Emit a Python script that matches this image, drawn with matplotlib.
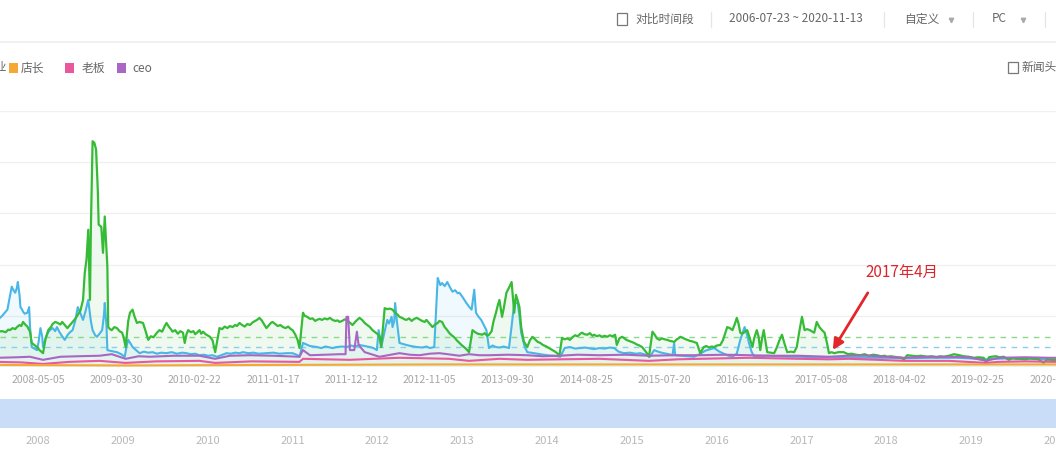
import numpy as np
import pandas as pd
import matplotlib
matplotlib.use('Agg')
import matplotlib.pyplot as plt
from matplotlib.patches import Rectangle
from matplotlib.lines import Line2D

plt.rcParams['font.family'] = ['Noto Sans CJK SC', 'DejaVu Sans']

# ---------------- data: (decimal year, index value) ----------------
green_pts = [
    (2007.88, 690), (2007.93, 700), (2007.97, 680), (2008.00, 730), (2008.02, 720), (2008.05, 760),
    (2008.08, 740), (2008.10, 780), (2008.13, 820), (2008.15, 800), (2008.17, 880), (2008.20, 820),
    (2008.22, 790), (2008.25, 690), (2008.27, 470), (2008.30, 430), (2008.33, 390), (2008.36, 330),
    (2008.40, 270), (2008.43, 560), (2008.46, 720), (2008.49, 780), (2008.51, 840), (2008.54, 880),
    (2008.57, 860), (2008.60, 830), (2008.62, 880), (2008.65, 820), (2008.68, 760), (2008.71, 820),
    (2008.74, 880), (2008.77, 940), (2008.80, 1020), (2008.83, 1100), (2008.86, 1310), (2008.88, 1840),
    (2008.90, 2100), (2008.92, 2680), (2008.94, 1310), (2008.95, 2680), (2008.97, 4410), (2008.99, 4380),
    (2009.01, 4250), (2009.03, 3460), (2009.04, 2780), (2009.07, 2740), (2009.09, 2230), (2009.11, 2940),
    (2009.14, 1960), (2009.15, 780), (2009.17, 740), (2009.19, 720), (2009.22, 780), (2009.25, 760),
    (2009.28, 700), (2009.31, 670), (2009.33, 560), (2009.35, 390), (2009.38, 900), (2009.40, 1060),
    (2009.43, 1120), (2009.45, 1000), (2009.48, 860), (2009.51, 880), (2009.55, 860), (2009.58, 700),
    (2009.61, 530), (2009.64, 600), (2009.67, 580), (2009.71, 670), (2009.74, 720), (2009.77, 690),
    (2009.80, 800), (2009.82, 860), (2009.85, 780), (2009.87, 740), (2009.89, 690), (2009.92, 720),
    (2009.95, 650), (2009.98, 700), (2010.01, 670), (2010.03, 470), (2010.05, 640), (2010.07, 720),
    (2010.10, 680), (2010.13, 700), (2010.15, 640), (2010.17, 670), (2010.20, 720), (2010.22, 650),
    (2010.24, 690), (2010.27, 640), (2010.30, 610), (2010.32, 590), (2010.35, 520), (2010.38, 290),
    (2010.43, 760), (2010.46, 740), (2010.49, 790), (2010.52, 760), (2010.55, 800), (2010.58, 780),
    (2010.61, 820), (2010.63, 800), (2010.66, 860), (2010.69, 820), (2010.72, 790), (2010.75, 840),
    (2010.78, 820), (2010.81, 870), (2010.84, 900), (2010.87, 930), (2010.89, 960), (2010.92, 900),
    (2010.94, 840), (2010.97, 760), (2011.00, 820), (2011.02, 860), (2011.04, 880), (2011.07, 840),
    (2011.10, 800), (2011.13, 820), (2011.16, 780), (2011.19, 760), (2011.22, 790), (2011.25, 740),
    (2011.27, 720), (2011.30, 640), (2011.33, 520), (2011.35, 370), (2011.39, 1060), (2011.41, 1000),
    (2011.44, 980), (2011.47, 940), (2011.50, 950), (2011.53, 900), (2011.55, 920), (2011.58, 940),
    (2011.61, 920), (2011.64, 950), (2011.67, 930), (2011.70, 960), (2011.73, 920), (2011.76, 900),
    (2011.79, 910), (2011.81, 880), (2011.84, 900), (2011.87, 930), (2011.89, 920), (2011.92, 880),
    (2011.94, 850), (2011.96, 820), (2011.99, 880), (2012.02, 930), (2012.04, 960), (2012.07, 920),
    (2012.10, 860), (2012.13, 820), (2012.16, 780), (2012.19, 720), (2012.22, 680), (2012.25, 640),
    (2012.27, 590), (2012.29, 390), (2012.33, 1150), (2012.36, 1130), (2012.39, 1140), (2012.42, 1120),
    (2012.45, 1060), (2012.48, 1020), (2012.50, 980), (2012.53, 960), (2012.56, 930), (2012.58, 920),
    (2012.61, 950), (2012.64, 900), (2012.67, 940), (2012.70, 960), (2012.73, 930), (2012.76, 900),
    (2012.79, 880), (2012.81, 920), (2012.84, 860), (2012.86, 820), (2012.88, 780), (2012.91, 830),
    (2012.94, 860), (2012.96, 900), (2012.99, 880), (2013.02, 780), (2013.05, 720), (2013.07, 670),
    (2013.10, 620), (2013.13, 580), (2013.16, 520), (2013.19, 470), (2013.22, 420), (2013.25, 380),
    (2013.28, 330), (2013.30, 290), (2013.34, 720), (2013.37, 680), (2013.40, 650), (2013.43, 640),
    (2013.45, 630), (2013.48, 660), (2013.51, 610), (2013.53, 630), (2013.56, 700), (2013.58, 880),
    (2013.61, 1060), (2013.63, 1200), (2013.65, 1310), (2013.68, 980), (2013.70, 1150), (2013.73, 1450),
    (2013.76, 1550), (2013.79, 1660), (2013.82, 1060), (2013.84, 1410), (2013.86, 1300), (2013.88, 1170),
    (2013.90, 780), (2013.93, 500), (2013.97, 390), (2014.00, 520), (2014.03, 590), (2014.06, 540),
    (2014.09, 490), (2014.12, 470), (2014.15, 430), (2014.18, 410), (2014.20, 390), (2014.23, 360),
    (2014.26, 330), (2014.29, 300), (2014.32, 260), (2014.34, 230), (2014.37, 570), (2014.40, 540),
    (2014.43, 560), (2014.46, 530), (2014.49, 580), (2014.52, 620), (2014.55, 600), (2014.58, 650),
    (2014.60, 670), (2014.63, 640), (2014.66, 630), (2014.69, 660), (2014.72, 610), (2014.74, 630),
    (2014.77, 600), (2014.80, 620), (2014.83, 590), (2014.86, 610), (2014.89, 590), (2014.92, 620),
    (2014.95, 600), (2014.98, 630), (2015.00, 430), (2015.03, 560), (2015.06, 590), (2015.08, 570),
    (2015.11, 530), (2015.14, 510), (2015.17, 490), (2015.20, 470), (2015.23, 440), (2015.26, 420),
    (2015.29, 390), (2015.32, 330), (2015.35, 260), (2015.37, 200), (2015.41, 690), (2015.44, 620),
    (2015.46, 560), (2015.49, 530), (2015.52, 560), (2015.55, 540), (2015.58, 530), (2015.61, 510),
    (2015.64, 500), (2015.66, 490), (2015.69, 540), (2015.71, 560), (2015.73, 590), (2015.76, 570),
    (2015.78, 550), (2015.81, 530), (2015.84, 510), (2015.87, 500), (2015.90, 480), (2015.92, 470),
    (2015.96, 270), (2016.00, 390), (2016.03, 410), (2016.06, 380), (2016.09, 400), (2016.12, 390),
    (2016.15, 420), (2016.19, 430), (2016.22, 520), (2016.25, 680), (2016.27, 780), (2016.30, 760),
    (2016.33, 720), (2016.36, 850), (2016.38, 960), (2016.40, 850), (2016.42, 670), (2016.44, 650),
    (2016.46, 670), (2016.48, 700), (2016.50, 720), (2016.53, 560), (2016.56, 390), (2016.58, 560),
    (2016.61, 720), (2016.63, 600), (2016.65, 330), (2016.67, 550), (2016.69, 720), (2016.71, 500),
    (2016.73, 290), (2016.77, 280), (2016.81, 270), (2016.84, 380), (2016.87, 520), (2016.90, 630),
    (2016.93, 450), (2016.96, 290), (2017.00, 300), (2017.04, 290), (2017.07, 390), (2017.10, 700),
    (2017.13, 980), (2017.16, 720), (2017.19, 740), (2017.22, 720), (2017.25, 690), (2017.27, 670),
    (2017.30, 880), (2017.33, 780), (2017.36, 720), (2017.39, 670), (2017.42, 450), (2017.44, 270),
    (2017.47, 290), (2017.50, 270), (2017.55, 290), (2017.61, 290), (2017.66, 250), (2017.70, 260),
    (2017.75, 240), (2017.80, 230), (2017.85, 250), (2017.90, 220), (2017.95, 240), (2017.99, 230),
    (2018.04, 210), (2018.08, 220), (2018.11, 200), (2018.15, 210), (2018.19, 200), (2018.24, 190),
    (2018.28, 180), (2018.30, 140), (2018.34, 230), (2018.40, 220), (2018.45, 210), (2018.50, 220),
    (2018.57, 200), (2018.62, 210), (2018.68, 190), (2018.72, 210), (2018.76, 200), (2018.82, 220),
    (2018.88, 250), (2018.94, 230), (2018.99, 210), (2019.05, 200), (2019.11, 180), (2019.16, 190),
    (2019.22, 180), (2019.25, 80), (2019.28, 190), (2019.31, 200), (2019.36, 210), (2019.40, 190),
    (2019.45, 200), (2019.51, 140), (2019.55, 170), (2019.60, 160), (2019.63, 160), (2019.70, 150),
    (2019.75, 170), (2019.79, 160), (2019.85, 150), (2019.91, 80), (2019.95, 150), (2020.00, 140),
    (2020.06, 140),
]

blue_pts = [
    (2007.88, 920), (2007.93, 1000), (2007.96, 1060), (2007.99, 1120), (2008.01, 1300), (2008.04, 1570),
    (2008.06, 1500), (2008.08, 1450), (2008.10, 1550), (2008.11, 1660), (2008.13, 1400), (2008.14, 1170),
    (2008.16, 1120), (2008.17, 1080), (2008.19, 1040), (2008.22, 1060), (2008.24, 1170), (2008.25, 800),
    (2008.27, 390), (2008.30, 360), (2008.33, 330), (2008.35, 500), (2008.37, 760), (2008.39, 600),
    (2008.40, 390), (2008.43, 560), (2008.46, 680), (2008.48, 720), (2008.51, 760), (2008.54, 700),
    (2008.56, 780), (2008.59, 680), (2008.62, 600), (2008.65, 530), (2008.68, 620), (2008.71, 680),
    (2008.74, 720), (2008.77, 900), (2008.80, 1170), (2008.83, 1050), (2008.86, 920), (2008.89, 1100),
    (2008.92, 1310), (2008.95, 900), (2008.97, 720), (2009.00, 620), (2009.02, 590), (2009.05, 650),
    (2009.08, 720), (2009.10, 1000), (2009.11, 1250), (2009.13, 800), (2009.14, 330), (2009.19, 310),
    (2009.25, 290), (2009.30, 250), (2009.34, 200), (2009.36, 400), (2009.38, 530), (2009.41, 450),
    (2009.43, 390), (2009.47, 330), (2009.51, 270), (2009.56, 300), (2009.61, 280), (2009.66, 290),
    (2009.71, 260), (2009.76, 280), (2009.82, 270), (2009.88, 290), (2009.94, 260), (2010.00, 280),
    (2010.05, 270), (2010.10, 250), (2010.15, 260), (2010.20, 230), (2010.25, 240), (2010.30, 220),
    (2010.35, 230), (2010.40, 200), (2010.45, 230), (2010.51, 270), (2010.56, 260), (2010.61, 280),
    (2010.66, 270), (2010.70, 290), (2010.76, 270), (2010.82, 280), (2010.88, 260), (2010.97, 270),
    (2011.05, 280), (2011.12, 260), (2011.20, 270), (2011.27, 270), (2011.33, 230), (2011.35, 200),
    (2011.39, 470), (2011.43, 440), (2011.47, 410), (2011.51, 400), (2011.55, 390), (2011.60, 370),
    (2011.65, 400), (2011.70, 380), (2011.73, 370), (2011.78, 390), (2011.84, 400), (2011.89, 390),
    (2011.94, 420), (2011.99, 400), (2012.04, 430), (2012.10, 410), (2012.16, 390), (2012.20, 370),
    (2012.24, 330), (2012.26, 720), (2012.28, 550), (2012.29, 390), (2012.33, 700), (2012.36, 920),
    (2012.38, 850), (2012.41, 980), (2012.42, 780), (2012.44, 900), (2012.45, 1250), (2012.47, 900),
    (2012.50, 470), (2012.54, 450), (2012.58, 430), (2012.63, 410), (2012.70, 390), (2012.76, 380),
    (2012.81, 400), (2012.85, 370), (2012.90, 390), (2012.94, 1740), (2012.97, 1600), (2012.99, 1640),
    (2013.02, 1580), (2013.05, 1660), (2013.08, 1560), (2013.11, 1470), (2013.14, 1500), (2013.17, 1440),
    (2013.19, 1450), (2013.22, 1380), (2013.25, 1300), (2013.27, 1250), (2013.30, 1180), (2013.33, 1120),
    (2013.36, 1510), (2013.38, 1060), (2013.41, 980), (2013.44, 920), (2013.47, 820), (2013.50, 720),
    (2013.53, 370), (2013.57, 420), (2013.61, 390), (2013.65, 380), (2013.70, 400), (2013.76, 370),
    (2013.79, 800), (2013.82, 1250), (2013.86, 1250), (2013.88, 1000), (2013.90, 670), (2013.94, 400),
    (2013.97, 290), (2014.05, 270), (2014.12, 250), (2014.20, 230), (2014.28, 220), (2014.35, 200),
    (2014.40, 370), (2014.46, 390), (2014.52, 360), (2014.58, 370), (2014.64, 380), (2014.70, 360),
    (2014.74, 350), (2014.80, 370), (2014.86, 360), (2014.92, 380), (2014.97, 370), (2015.02, 300),
    (2015.08, 270), (2015.15, 280), (2015.22, 260), (2015.27, 270), (2015.33, 240), (2015.38, 200),
    (2015.43, 330), (2015.49, 290), (2015.54, 270), (2015.60, 250), (2015.64, 230), (2015.66, 470),
    (2015.67, 230), (2015.75, 220), (2015.82, 210), (2015.89, 200), (2015.95, 250), (2016.02, 320),
    (2016.08, 350), (2016.12, 370), (2016.18, 300), (2016.23, 260), (2016.27, 230), (2016.33, 200),
    (2016.38, 260), (2016.42, 530), (2016.45, 680), (2016.47, 780), (2016.50, 620), (2016.52, 470),
    (2016.55, 300), (2016.58, 200), (2016.65, 210), (2016.73, 220), (2016.85, 210), (2016.96, 200),
    (2017.09, 200), (2017.30, 190), (2017.50, 190), (2017.80, 180), (2018.10, 180), (2018.30, 170),
    (2018.60, 180), (2018.94, 180), (2019.25, 150), (2019.50, 170), (2019.80, 160), (2020.06, 140),
]

ceo_pts = [
    (2007.88, 180), (2008.10, 190), (2008.25, 200), (2008.40, 140), (2008.60, 200), (2008.80, 210),
    (2009.05, 220), (2009.19, 250), (2009.35, 160), (2009.50, 210), (2009.63, 200), (2009.90, 220),
    (2010.20, 220), (2010.38, 160), (2010.55, 220), (2010.78, 230), (2011.05, 220), (2011.35, 200),
    (2011.39, 330), (2011.47, 230), (2011.65, 240), (2011.81, 250), (2011.88, 250), (2011.89, 980),
    (2011.91, 980), (2011.93, 330), (2011.98, 330), (2012.01, 690), (2012.03, 430), (2012.10, 290),
    (2012.27, 200), (2012.40, 240), (2012.50, 270), (2012.62, 240), (2012.73, 230), (2012.85, 260),
    (2012.96, 270), (2013.10, 240), (2013.19, 220), (2013.30, 250), (2013.42, 230), (2013.53, 230),
    (2013.75, 240), (2013.97, 230), (2014.15, 210), (2014.34, 220), (2014.55, 240), (2014.80, 230),
    (2015.10, 240), (2015.37, 220), (2015.65, 230), (2015.95, 230), (2016.25, 240), (2016.52, 230),
    (2016.80, 220), (2017.09, 220), (2017.44, 200), (2017.65, 220), (2017.90, 220), (2018.10, 200),
    (2018.30, 180), (2018.55, 200), (2018.82, 200), (2019.05, 190), (2019.25, 120), (2019.39, 180),
    (2019.70, 190), (2019.97, 180), (2020.06, 180),
]

boss_pts = [
    (2007.88, 100), (2008.15, 90), (2008.40, 60), (2008.70, 100), (2009.05, 120), (2009.35, 80),
    (2009.70, 110), (2010.20, 120), (2010.38, 80), (2010.80, 110), (2011.35, 100), (2011.39, 160),
    (2011.65, 150), (2011.93, 140), (2012.20, 160), (2012.50, 180), (2012.80, 170), (2013.07, 160),
    (2013.30, 120), (2013.65, 160), (2013.97, 140), (2014.35, 150), (2014.80, 160), (2015.37, 120),
    (2015.70, 150), (2015.95, 160), (2016.25, 170), (2016.52, 180), (2017.09, 160), (2017.44, 150),
    (2017.67, 160), (2018.00, 140), (2018.30, 120), (2018.82, 120), (2019.25, 80), (2019.39, 100),
    (2019.70, 110), (2020.06, 100),
]

shop_pts = [(2007.88, 40), (2009.35, 30), (2011.00, 40), (2013.00, 50), (2015.00, 50),
            (2017.00, 50), (2019.00, 50), (2020.06, 50)]

green_avg = 590
blue_avg = 390

tick_dates = ['2008-05-05', '2009-03-30', '2010-02-22', '2011-01-17', '2011-12-12', '2012-11-05',
              '2013-09-30', '2014-08-25', '2015-07-20', '2016-06-13', '2017-05-08', '2018-04-02',
              '2019-02-25', '2020-01-20']
slider_years = [2008, 2009, 2010, 2011, 2012, 2013, 2014, 2015, 2016, 2017, 2018, 2019, 2020]

legend_labels = ['店长', '老板', 'ceo']
legend_colors = ['#f7a734', '#e9579d', '#a966c4']
color_green = '#36bb36'
color_blue = '#48b6e6'

date_range = '2006-07-23 ~ 2020-11-13'
annotation_text = '2017年4月'


def dec_year(s):
    d = pd.Timestamp(s)
    a = pd.Timestamp(d.year, 1, 1)
    b = pd.Timestamp(d.year + 1, 1, 1)
    return d.year + (d - a) / (b - a)


def split(pts):
    return [p[0] for p in pts], [p[1] for p in pts]


W, H = 1056, 450
fig = plt.figure(figsize=(W / 100, H / 100), dpi=100)
fig.patch.set_facecolor('white')


def fx(x):
    return x / W


def fy(y):
    return 1 - y / H


# ---------------- header ----------------
fig.add_artist(Line2D([0, 1], [fy(42), fy(42)], color='#eeeeee', lw=1.2))
fig.add_artist(Rectangle((fx(617), fy(25)), 10 / W, 12 / H, fill=False, ec='#777777', lw=0.9))
hdr_kw = dict(fontsize=8.5, color='#666666', va='center')
fig.text(fx(635), fy(19), '对比时间段', **hdr_kw)
fig.text(fx(729), fy(19), date_range, **hdr_kw)
fig.text(fx(904), fy(19), '自定义', **hdr_kw)
fig.text(fx(992), fy(19), 'PC', **hdr_kw)
for sx in [711, 884, 973, 1045]:
    fig.add_artist(Line2D([fx(sx), fx(sx)], [fy(12), fy(27)], color='#e6e6e6', lw=0.9))
for tx in [951, 1023]:
    fig.add_artist(Line2D([fx(tx)], [fy(20)], marker='v', ms=3.2, color='#aaaaaa', lw=0))

# legend row
fig.text(fx(7), fy(68), '企业', fontsize=8.5, color='#666666', va='center', ha='right')
for lbl, col, sq, tx in zip(legend_labels, legend_colors, [9, 65, 117], [21, 82, 132]):
    fig.add_artist(Rectangle((fx(sq), fy(73)), 9 / W, 10 / H, color=col, lw=0))
    fig.text(fx(tx), fy(68), lbl, fontsize=8.5, color='#666666', va='center')
fig.add_artist(Rectangle((fx(1008), fy(73)), 10 / W, 11 / H, fill=False, ec='#777777', lw=0.9))
fig.text(fx(1022), fy(68), '新闻头条', fontsize=8.5, color='#666666', va='center')

# ---------------- main chart ----------------
ax = fig.add_axes([0, fy(367), 1, (367 - 111) / H])
ax.set_xlim(2007.905, 2020.035)
ax.set_ylim(0, 5000)
for s in ax.spines.values():
    s.set_visible(False)
ax.set_yticks([1000, 2000, 3000, 4000, 5000])
ax.yaxis.grid(True, color='#f0f0f0', lw=1)
ax.tick_params(axis='y', length=0, labelleft=False)
ax.set_axisbelow(True)

gt, gv = split(green_pts)
bt, bv = split(blue_pts)
ct, cv = split(ceo_pts)
ot, ov = split(boss_pts)
st, sv = split(shop_pts)

ax.fill_between(bt, bv, 0, color=color_blue, alpha=0.08, lw=0)
ax.fill_between(gt, gv, 0, color=color_green, alpha=0.08, lw=0)
ax.axhline(green_avg, color='#8ad88a', lw=1, ls=(0, (4, 4)))
ax.axhline(blue_avg, color='#8ccdee', lw=1, ls=(0, (4, 4)))

ax.plot(bt, bv, color=color_blue, lw=1.5, zorder=3)
ax.plot(gt, gv, color=color_green, lw=1.6, zorder=4)
ax.plot(ct, cv, color=legend_colors[2], lw=1.5, zorder=5)
ax.plot(ot, ov, color=legend_colors[1], lw=1.5, zorder=5)
ax.plot(st, sv, color=legend_colors[0], lw=1.5, zorder=5)

ax.set_xticks([dec_year(d) for d in tick_dates])
ax.set_xticklabels(tick_dates)
ax.tick_params(axis='x', length=0, pad=6, labelsize=7.5, labelcolor='#a5a5a5')

# annotation
ax.annotate('', xy=(2017.485, 333), xytext=(2017.887, 1448),
            arrowprops=dict(arrowstyle='-|>', color='#e3262a', lw=2, mutation_scale=16,
                            shrinkA=0, shrinkB=0), zorder=6)
ax.text(2018.278, 1840, annotation_text, color='#d9262c', fontsize=11, ha='center', va='center',
        fontweight='medium')

# ---------------- slider ----------------
ax2 = fig.add_axes([0, fy(428), 1, 29 / H])
ax2.set_facecolor('#c9ddf8')
for s in ax2.spines.values():
    s.set_visible(False)
ax2.set_xlim(2008 - 38 / 85, 2008 + 1018 / 85)
ax2.set_ylim(0, 1)
ax2.set_yticks([])
ax2.set_xticks(slider_years)
ax2.set_xticklabels([str(y) for y in slider_years])
ax2.tick_params(axis='x', length=0, pad=6, labelsize=8, labelcolor='#b8b8b8')

fig.savefig('out.png', dpi=100)
